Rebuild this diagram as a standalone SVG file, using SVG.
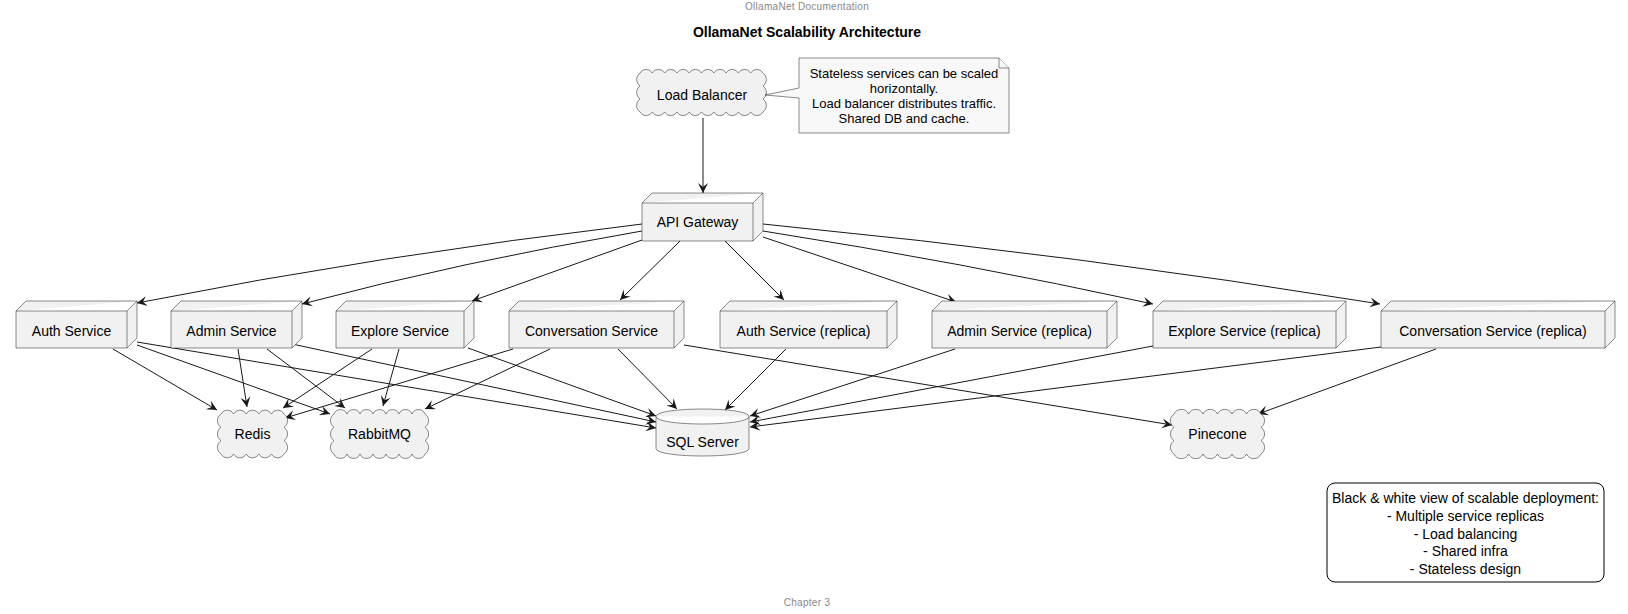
<svg xmlns="http://www.w3.org/2000/svg" width="1628" height="614" viewBox="0 0 1628 614">
<defs>
<style>
.box{fill:#F1F1F1;stroke:#181818;stroke-width:0.5}
.note{fill:#F8F8F8;stroke:#181818;stroke-width:0.5}
.lbl{font-family:"Liberation Sans",Arial,sans-serif;font-size:14px;fill:#000;text-anchor:middle}
.nt{font-family:"Liberation Sans",Arial,sans-serif;font-size:13px;fill:#000;text-anchor:middle}
.hf{font-family:"Liberation Sans",Arial,sans-serif;font-size:10px;fill:#888888;text-anchor:middle;letter-spacing:0.3px}
.ttl{font-family:"Liberation Sans",Arial,sans-serif;font-size:14px;font-weight:bold;fill:#000;text-anchor:middle}
.edge{stroke:#181818;stroke-width:1;fill:none;marker-end:url(#ah)}
</style>
<marker id="ah" markerUnits="userSpaceOnUse" markerWidth="13" markerHeight="12" viewBox="-12 -6 13 12" refX="0" refY="0" orient="auto">
<path d="M0,0 L-10,-5 L-6,0 L-10,5 Z" fill="#181818"/>
</marker>
</defs>
<rect width="1628" height="614" fill="#FFFFFF"/>
<text class="hf" x="807" y="10">OllamaNet Documentation</text>
<text class="ttl" x="807" y="37">OllamaNet Scalability Architecture</text>

<g id="connectors">
<path class="edge" d="M703,118 L703,193"/>
<path class="edge" d="M642,224 Q380,255 137,303"/>
<path class="edge" d="M642,231 Q460,262 302,304"/>
<path class="edge" d="M642,240 L472,301"/>
<path class="edge" d="M680,241 L620,300"/>
<path class="edge" d="M725,241 L784,300"/>
<path class="edge" d="M763,237 L956,302"/>
<path class="edge" d="M763,231 Q960,262 1153,304"/>
<path class="edge" d="M763,224 Q1080,255 1380,304"/>
<path class="edge" d="M113,349 L217,410"/>
<path class="edge" d="M137,345 L330,414"/>
<path class="edge" d="M137,342 L656,428"/>
<path class="edge" d="M238,349 L247,407"/>
<path class="edge" d="M267,349 L345,408"/>
<path class="edge" d="M292,344 L656,422"/>
<path class="edge" d="M372,349 L283,408"/>
<path class="edge" d="M399,349 L383,406"/>
<path class="edge" d="M468,348 L656,416"/>
<path class="edge" d="M513,349 L285,418"/>
<path class="edge" d="M550,349 L425,409"/>
<path class="edge" d="M618,349 L677,409"/>
<path class="edge" d="M684,345 L1172,425"/>
<path class="edge" d="M786,349 L725,410"/>
<path class="edge" d="M955,349 L750,416"/>
<path class="edge" d="M1153,346 L750,422"/>
<path class="edge" d="M1381,347 L750,427"/>
<path class="edge" d="M1436,349 L1258,414"/>
</g>

<g id="load-balancer">
<path class="box" d="M640,73 a7,7 0 0 1 12.3,0 a7,7 0 0 1 12.3,0 a7,7 0 0 1 12.3,0 a7,7 0 0 1 12.3,0 a7,7 0 0 1 12.3,0 a7,7 0 0 1 12.3,0 a7,7 0 0 1 12.3,0 a7,7 0 0 1 12.3,0 a7,7 0 0 1 12.3,0 a7,7 0 0 1 12.3,0 a8,8 0 0 1 0,13 a8,8 0 0 1 0,13 a8,8 0 0 1 0,13 a7,7 0 0 1 -12.3,0 a7,7 0 0 1 -12.3,0 a7,7 0 0 1 -12.3,0 a7,7 0 0 1 -12.3,0 a7,7 0 0 1 -12.3,0 a7,7 0 0 1 -12.3,0 a7,7 0 0 1 -12.3,0 a7,7 0 0 1 -12.3,0 a7,7 0 0 1 -12.3,0 a7,7 0 0 1 -12.3,0 a8,8 0 0 1 0,-13 a8,8 0 0 1 0,-13 a8,8 0 0 1 0,-13 Z"/>
<text class="lbl" x="702" y="100">Load Balancer</text>
</g>

<g id="note">
<path class="note" d="M799,58 L999,58 L1009,68 L1009,133 L799,133 L799,98 L765,95 L799,88 Z"/>
<path class="note" d="M999,58 L999,68 L1009,68"/>
<text class="nt" x="904" y="77.5">Stateless services can be scaled</text>
<text class="nt" x="904" y="92.7">horizontally.</text>
<text class="nt" x="904" y="107.9">Load balancer distributes traffic.</text>
<text class="nt" x="904" y="123.1">Shared DB and cache.</text>
</g>

<g id="api-gateway">
<path class="box" d="M642,203 L652,193 L763,193 L763,231 L753,241 L642,241 Z M642,203 L753,203 L763,193 M753,203 L753,241"/>
<text class="lbl" x="697.5" y="227">API Gateway</text>
</g>

<g id="auth-service">
<path class="box" d="M16,311 L26,301 L137,301 L137,338 L127,348 L16,348 Z M16,311 L127,311 L137,301 M127,311 L127,348"/>
<text class="lbl" x="71.5" y="335.5">Auth Service</text>
</g>
<g id="admin-service">
<path class="box" d="M171,311 L181,301 L302,301 L302,338 L292,348 L171,348 Z M171,311 L292,311 L302,301 M292,311 L292,348"/>
<text class="lbl" x="231.5" y="335.5">Admin Service</text>
</g>
<g id="explore-service">
<path class="box" d="M336,311 L346,301 L474,301 L474,338 L464,348 L336,348 Z M336,311 L464,311 L474,301 M464,311 L464,348"/>
<text class="lbl" x="400" y="335.5">Explore Service</text>
</g>
<g id="conversation-service">
<path class="box" d="M509,311 L519,301 L684,301 L684,338 L674,348 L509,348 Z M509,311 L674,311 L684,301 M674,311 L674,348"/>
<text class="lbl" x="591.5" y="335.5">Conversation Service</text>
</g>
<g id="auth-service-replica">
<path class="box" d="M720,311 L730,301 L897,301 L897,338 L887,348 L720,348 Z M720,311 L887,311 L897,301 M887,311 L887,348"/>
<text class="lbl" x="803.5" y="335.5">Auth Service (replica)</text>
</g>
<g id="admin-service-replica">
<path class="box" d="M932,311 L942,301 L1117,301 L1117,338 L1107,348 L932,348 Z M932,311 L1107,311 L1117,301 M1107,311 L1107,348"/>
<text class="lbl" x="1019.5" y="335.5">Admin Service (replica)</text>
</g>
<g id="explore-service-replica">
<path class="box" d="M1153,311 L1163,301 L1346,301 L1346,338 L1336,348 L1153,348 Z M1153,311 L1336,311 L1346,301 M1336,311 L1336,348"/>
<text class="lbl" x="1244.5" y="335.5">Explore Service (replica)</text>
</g>
<g id="conversation-service-replica">
<path class="box" d="M1381,311 L1391,301 L1615,301 L1615,338 L1605,348 L1381,348 Z M1381,311 L1605,311 L1615,301 M1605,311 L1605,348"/>
<text class="lbl" x="1493" y="335.5">Conversation Service (replica)</text>
</g>

<g id="redis">
<path class="box" d="M221,414 a7,7 0 0 1 12.6,0 a7,7 0 0 1 12.6,0 a7,7 0 0 1 12.6,0 a7,7 0 0 1 12.6,0 a7,7 0 0 1 12.6,0 a8,8 0 0 1 0,13.33 a8,8 0 0 1 0,13.33 a8,8 0 0 1 0,13.34 a7,7 0 0 1 -12.6,0 a7,7 0 0 1 -12.6,0 a7,7 0 0 1 -12.6,0 a7,7 0 0 1 -12.6,0 a7,7 0 0 1 -12.6,0 a8,8 0 0 1 0,-13.33 a8,8 0 0 1 0,-13.33 a8,8 0 0 1 0,-13.34 Z"/>
<text class="lbl" x="252.5" y="439">Redis</text>
</g>
<g id="rabbitmq">
<path class="box" d="M334,414 a7,7 0 0 1 13,0 a7,7 0 0 1 13,0 a7,7 0 0 1 13,0 a7,7 0 0 1 13,0 a7,7 0 0 1 13,0 a7,7 0 0 1 13,0 a7,7 0 0 1 13,0 a8,8 0 0 1 0,13.33 a8,8 0 0 1 0,13.33 a8,8 0 0 1 0,13.34 a7,7 0 0 1 -13,0 a7,7 0 0 1 -13,0 a7,7 0 0 1 -13,0 a7,7 0 0 1 -13,0 a7,7 0 0 1 -13,0 a7,7 0 0 1 -13,0 a7,7 0 0 1 -13,0 a8,8 0 0 1 0,-13.33 a8,8 0 0 1 0,-13.33 a8,8 0 0 1 0,-13.34 Z"/>
<text class="lbl" x="379.5" y="439">RabbitMQ</text>
</g>
<g id="pinecone">
<path class="box" d="M1174,414 a8,8 0 0 1 14.5,0 a8,8 0 0 1 14.5,0 a8,8 0 0 1 14.5,0 a8,8 0 0 1 14.5,0 a8,8 0 0 1 14.5,0 a8,8 0 0 1 14.5,0 a8,8 0 0 1 0,13.33 a8,8 0 0 1 0,13.33 a8,8 0 0 1 0,13.34 a8,8 0 0 1 -14.5,0 a8,8 0 0 1 -14.5,0 a8,8 0 0 1 -14.5,0 a8,8 0 0 1 -14.5,0 a8,8 0 0 1 -14.5,0 a8,8 0 0 1 -14.5,0 a8,8 0 0 1 0,-13.33 a8,8 0 0 1 0,-13.33 a8,8 0 0 1 0,-13.34 Z"/>
<text class="lbl" x="1217.5" y="439">Pinecone</text>
</g>
<g id="sql-server">
<path class="box" d="M656,416.5 C656,406.5 749,406.5 749,416.5 L749,448.5 C749,458.5 656,458.5 656,448.5 Z M656,416.5 C656,426.5 749,426.5 749,416.5"/>
<text class="lbl" x="702.5" y="447">SQL Server</text>
</g>

<g id="legend">
<rect x="1327" y="483" width="277" height="99" rx="8" ry="8" fill="#FFFFFF" stroke="#000000" stroke-width="1"/>
<text class="lbl" x="1465.5" y="503">Black &amp; white view of scalable deployment:</text>
<text class="lbl" x="1465.5" y="521">- Multiple service replicas</text>
<text class="lbl" x="1465.5" y="538.7">- Load balancing</text>
<text class="lbl" x="1465.5" y="556.3">- Shared infra</text>
<text class="lbl" x="1465.5" y="574">- Stateless design</text>
</g>

<text class="hf" x="807" y="606">Chapter 3</text>
</svg>
